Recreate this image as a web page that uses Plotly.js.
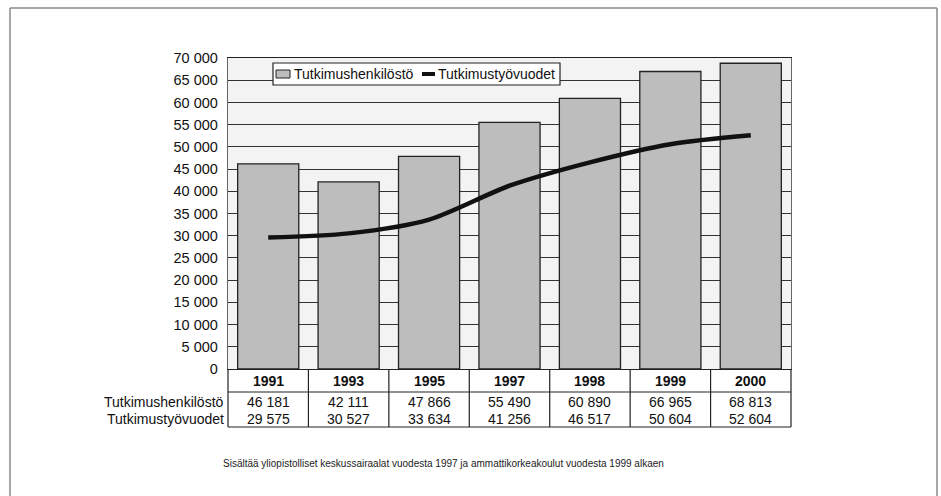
<!DOCTYPE html>
<html>
<head>
<meta charset="utf-8">
<script src="https://cdn.plot.ly/plotly-3.0.1.min.js"></script>
<style>
  html, body { margin: 0; padding: 0; background: #fff; }
  #chart { width: 941px; height: 496px; }
</style>
</head>
<body>
<div id="chart"></div>
<script>
const years = ["1991", "1993", "1995", "1997", "1998", "1999", "2000"];
const henkilosto = [46181, 42111, 47866, 55490, 60890, 66965, 68813];
const tyovuodet = [29575, 30527, 33634, 41256, 46517, 50604, 52604];
const seriesNames = ["Tutkimushenkilöstö", "Tutkimustyövuodet"];
const footnote = "Sisältää yliopistolliset keskussairaalat vuodesta 1997 ja ammattikorkeakoulut vuodesta 1999 alkaen";

const FONT = '"Liberation Sans Narrow", "Liberation Sans", Arial, sans-serif';
const BAR_COLOR = '#bdbdbd';
const LINE_COLOR = '#111';
const fmt = v => String(v).replace(/\B(?=(\d{3})+(?!\d))/g, ' ');

const traces = [
  {
    type: 'bar', x: years, y: henkilosto, name: seriesNames[0],
    marker: { color: BAR_COLOR, line: { color: '#222', width: 1.3 } },
    hoverinfo: 'skip'
  },
  {
    type: 'scatter', mode: 'lines', x: years, y: tyovuodet, name: seriesNames[1],
    line: { color: LINE_COLOR, width: 4.5, shape: 'spline', smoothing: 0.8 },
    hoverinfo: 'skip'
  }
];

// pixel -> paper helpers (plot area: x 228..791, y 58..369)
const px = v => (v - 228) / 563;
const py = v => (369 - v) / 311;

const n = years.length;
const yHeadBottom = py(392), yTableBottom = py(427);
const shapes = [];
shapes.push({ type: 'line', xref: 'paper', yref: 'paper', x0: 0, x1: 1, y0: yHeadBottom, y1: yHeadBottom, line: { color: '#222', width: 1.2 } });
shapes.push({ type: 'line', xref: 'paper', yref: 'paper', x0: 0, x1: 1, y0: yTableBottom, y1: yTableBottom, line: { color: '#222', width: 1.2 } });
for (let i = 0; i <= n; i++) {
  shapes.push({ type: 'line', xref: 'paper', yref: 'paper', x0: i / n, x1: i / n, y0: 0, y1: yTableBottom, line: { color: '#222', width: 1.2 } });
}
// outer frame, open at the bottom
shapes.push({ type: 'line', xref: 'paper', yref: 'paper', x0: px(10), x1: px(10), y0: py(500), y1: py(8), line: { color: '#8a8a8a', width: 1.5 } });
shapes.push({ type: 'line', xref: 'paper', yref: 'paper', x0: px(10), x1: px(937), y0: py(8), y1: py(8), line: { color: '#8a8a8a', width: 1.5 } });
shapes.push({ type: 'line', xref: 'paper', yref: 'paper', x0: px(937), x1: px(937), y0: py(8), y1: py(500), line: { color: '#8a8a8a', width: 1.5 } });

// custom legend box
shapes.push({ type: 'rect', layer: 'above', xref: 'paper', yref: 'paper', x0: px(273), x1: px(560), y0: py(85), y1: py(63), fillcolor: '#ffffff', line: { color: '#222', width: 1.2 } });
shapes.push({ type: 'rect', layer: 'above', xref: 'paper', yref: 'paper', x0: px(276), x1: px(290), y0: py(78), y1: py(70), fillcolor: BAR_COLOR, line: { color: '#222', width: 1 } });
shapes.push({ type: 'line', layer: 'above', xref: 'paper', yref: 'paper', x0: px(422), x1: px(435), y0: py(74), y1: py(74), line: { color: LINE_COLOR, width: 4 } });

const TF = { family: FONT, size: 14, color: '#111' };
const annotations = [];
annotations.push({ xref: 'paper', yref: 'paper', x: px(292), y: py(74), xanchor: 'left', yanchor: 'middle', text: seriesNames[0], showarrow: false, font: TF });
annotations.push({ xref: 'paper', yref: 'paper', x: px(436), y: py(74), xanchor: 'left', yanchor: 'middle', text: seriesNames[1], showarrow: false, font: TF });

years.forEach((yr, i) => {
  annotations.push({ xref: 'x', yref: 'paper', x: i, y: py(381), text: '<b>' + yr + '</b>', showarrow: false, font: TF, yanchor: 'middle' });
  annotations.push({ xref: 'x', yref: 'paper', x: i, y: py(402), text: fmt(henkilosto[i]), showarrow: false, font: TF, yanchor: 'middle' });
  annotations.push({ xref: 'x', yref: 'paper', x: i, y: py(419), text: fmt(tyovuodet[i]), showarrow: false, font: TF, yanchor: 'middle' });
});
annotations.push({ xref: 'paper', yref: 'paper', x: px(226), y: py(402), xanchor: 'right', yanchor: 'middle', text: seriesNames[0], showarrow: false, font: TF });
annotations.push({ xref: 'paper', yref: 'paper', x: px(226), y: py(419), xanchor: 'right', yanchor: 'middle', text: seriesNames[1], showarrow: false, font: TF });
annotations.push({ xref: 'paper', yref: 'paper', x: px(443), y: py(463), xanchor: 'center', yanchor: 'middle', text: footnote, showarrow: false, font: { family: FONT, size: 10, color: '#222' } });

const layout = {
  width: 941, height: 496,
  margin: { l: 228, r: 150, t: 58, b: 127 },
  paper_bgcolor: '#ffffff',
  plot_bgcolor: '#f3f3f3',
  separators: ', ',
  font: { family: FONT, size: 14, color: '#111' },
  bargap: 0.24,
  showlegend: false,
  xaxis: {
    type: 'category', range: [-0.5, n - 0.5],
    showticklabels: false, ticks: '', showgrid: false, zeroline: false,
    showline: true, linecolor: '#222', linewidth: 1.2, mirror: true, fixedrange: true
  },
  yaxis: {
    range: [0, 70000], dtick: 5000, tick0: 0,
    separatethousands: true, tickformat: ',d',
    showgrid: true, gridcolor: '#333', gridwidth: 1,
    zeroline: false, ticks: '', ticklabelstandoff: 6,
    showline: true, linecolor: '#666', linewidth: 1.2, mirror: true,
    tickfont: { family: FONT, size: 14.5, color: '#111' }, fixedrange: true
  },
  shapes: shapes,
  annotations: annotations
};

Plotly.newPlot('chart', traces, layout, { displayModeBar: false, staticPlot: true });
</script>
</body>
</html>
